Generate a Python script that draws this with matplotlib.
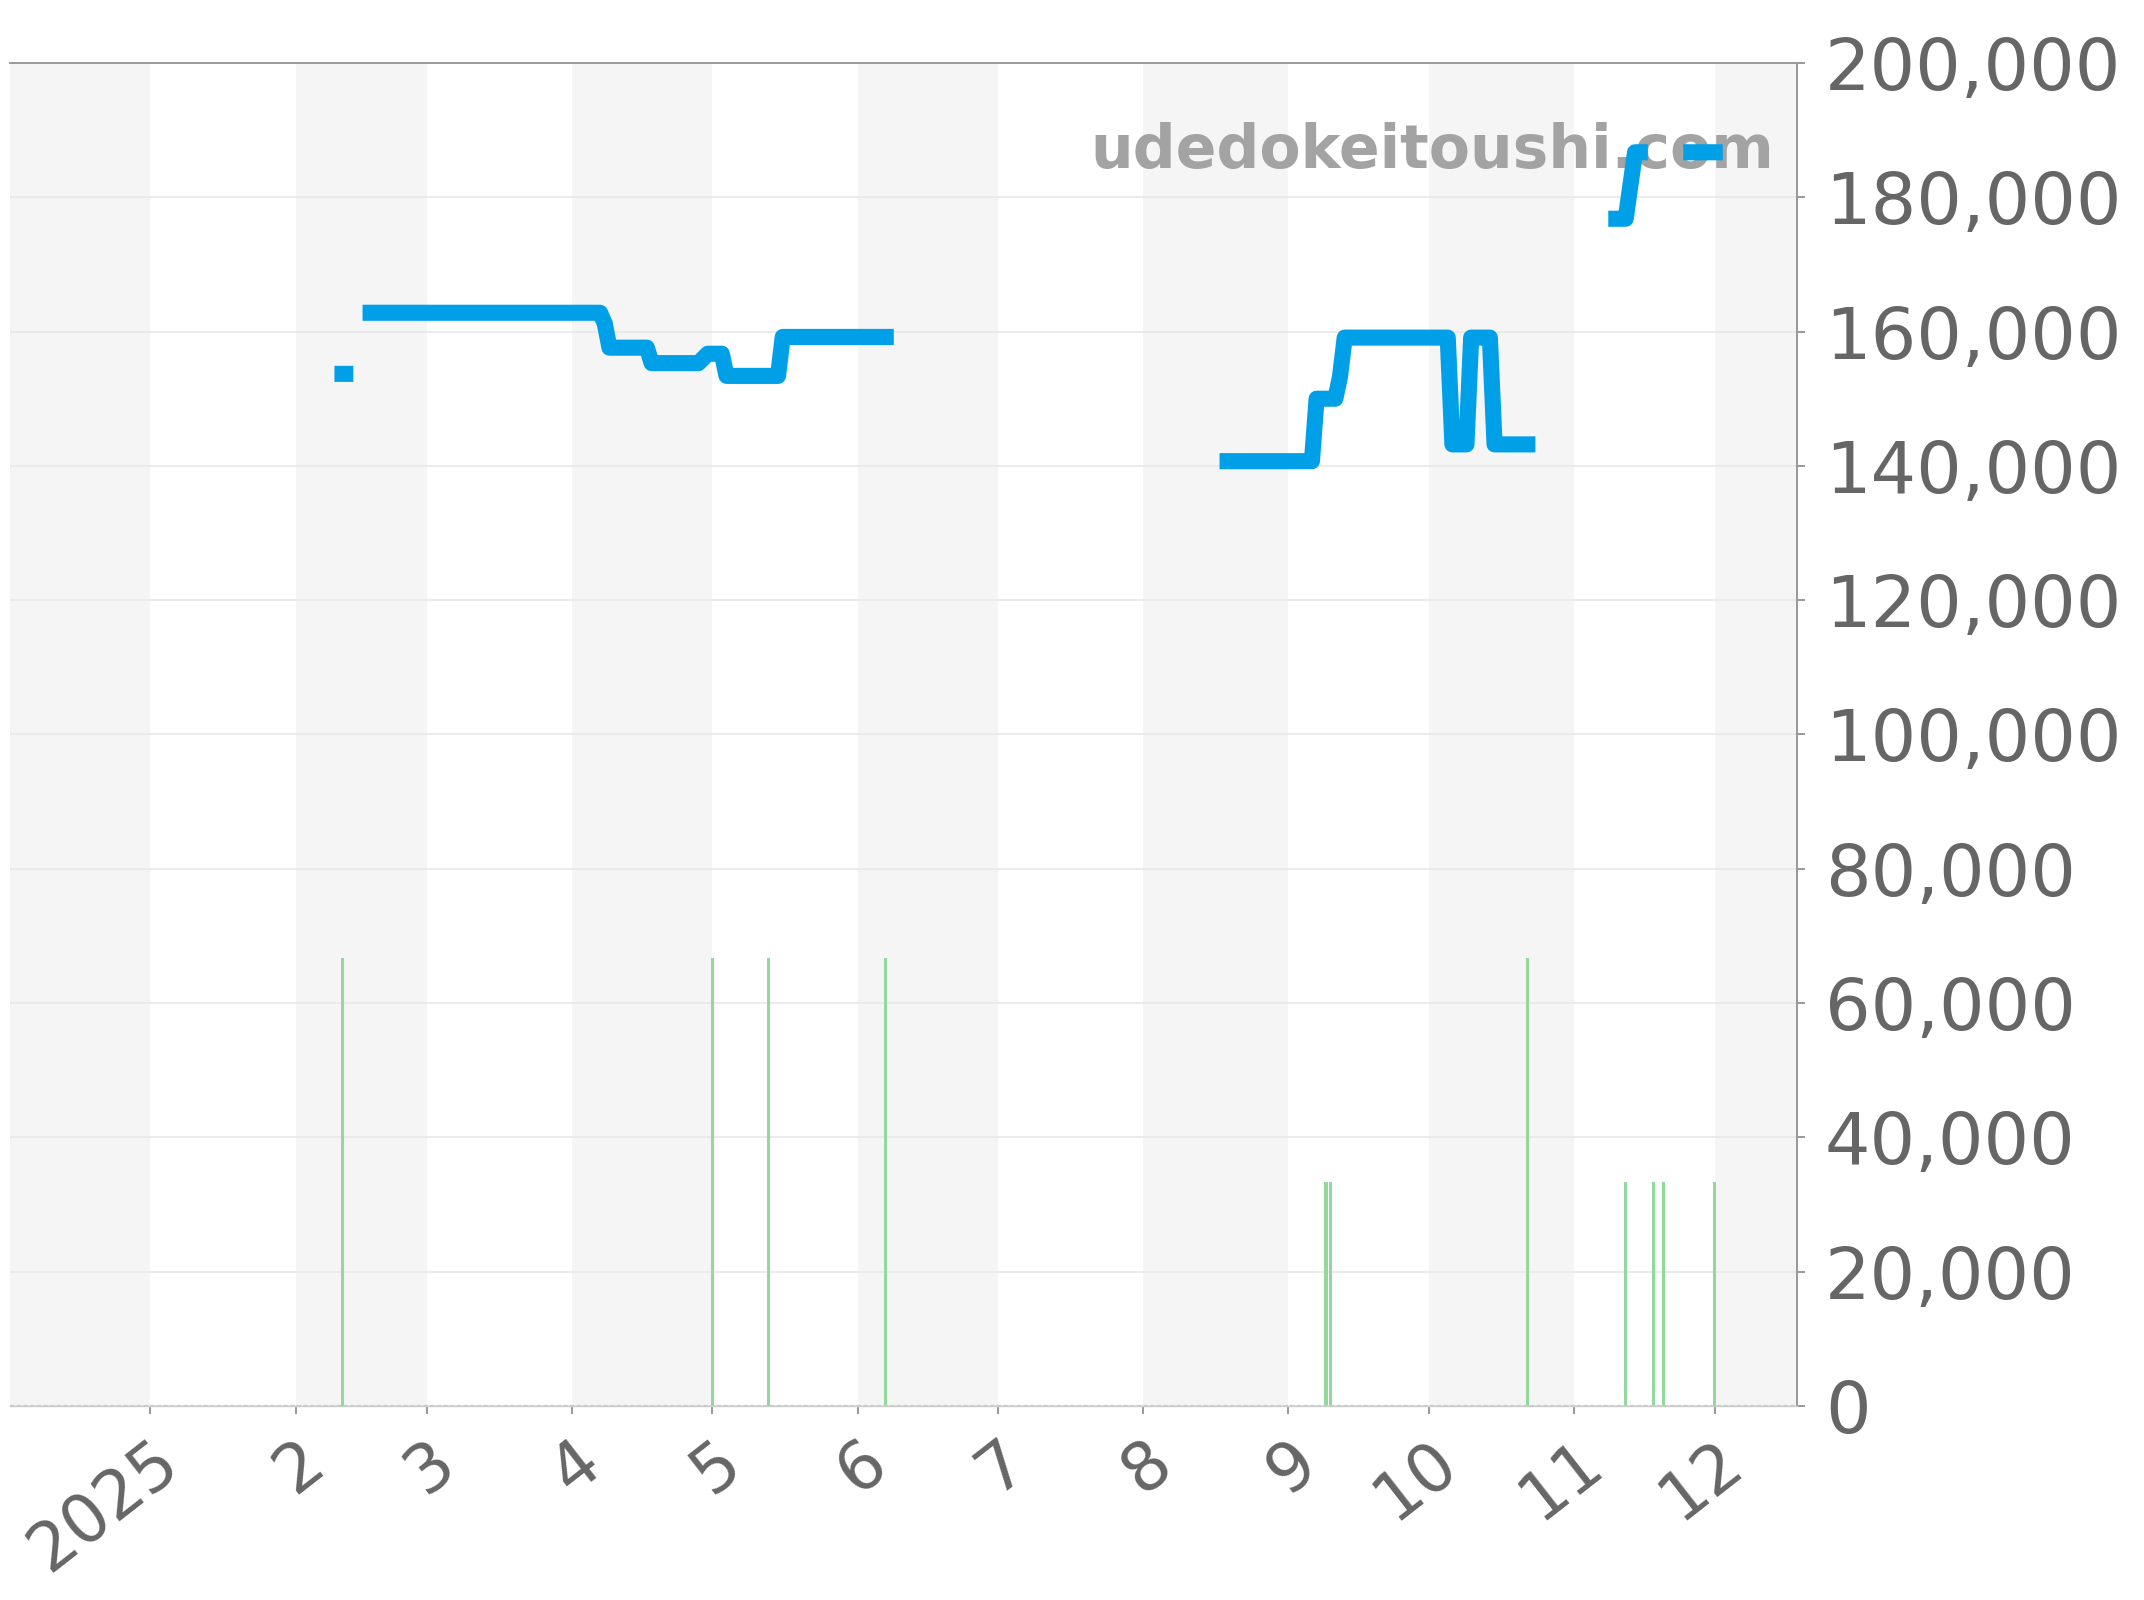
import numpy as np
import pandas as pd
import matplotlib
matplotlib.use("Agg")
import matplotlib.pyplot as plt
import matplotlib.ticker as mticker

# price line (NaN = no data)
price_dates = ["2025-02-11 00:00", "2025-02-11 14:00", "2025-02-12",
               "2025-02-17", "2025-04-07", "2025-04-08", "2025-04-09", "2025-04-17", "2025-04-18",
               "2025-04-28", "2025-04-30", "2025-05-03", "2025-05-04", "2025-05-15", "2025-05-16",
               "2025-06-07", "2025-06-08",
               "2025-08-19", "2025-09-06", "2025-09-07", "2025-09-11", "2025-09-12", "2025-09-13",
               "2025-10-05", "2025-10-06", "2025-10-09", "2025-10-10", "2025-10-14", "2025-10-15",
               "2025-10-22", "2025-10-23",
               "2025-11-10", "2025-11-12", "2025-11-14", "2025-11-15", "2025-11-16",
               "2025-11-26", "2025-12-01"]
price_values = [153700, 153700, np.nan,
                162800, 162800, 161200, 157600, 157600, 155300,
                155300, 156700, 156700, 153400, 153400, 159200,
                159200, np.nan,
                140700, 140700, 150000, 150000, 153300, 159100,
                159100, 143200, 143200, 159100, 159100, 143200,
                143200, np.nan,
                176800, 176800, 186700, 186700, np.nan,
                186700, 186700]

# listings count (green bars)
count_dates = ["2025-02-11", "2025-05-01", "2025-05-13", "2025-06-07", "2025-09-09", "2025-09-10",
               "2025-10-22", "2025-11-12", "2025-11-18", "2025-11-20", "2025-12-01"]
count_values = [2, 2, 2, 2, 1, 1, 2, 1, 1, 1, 1]

month_starts = ["2025-01-01", "2025-02-01", "2025-03-01", "2025-04-01", "2025-05-01", "2025-06-01",
                "2025-07-01", "2025-08-01", "2025-09-01", "2025-10-01", "2025-11-01", "2025-12-01"]
month_labels = ["2025", "2", "3", "4", "5", "6", "7", "8", "9", "10", "11", "12"]
shaded_months = [("2024-12-01", "2025-01-01"), ("2025-02-01", "2025-03-01"), ("2025-04-01", "2025-05-01"),
                 ("2025-06-01", "2025-07-01"), ("2025-08-01", "2025-09-01"), ("2025-10-01", "2025-11-01"),
                 ("2025-12-01", "2026-01-01")]

price_x = pd.to_datetime(price_dates, format="mixed")
count_x = pd.to_datetime(count_dates)
ticks_x = pd.to_datetime(month_starts)

fig = plt.figure(figsize=(10.72, 8), dpi=200)
ax = fig.add_axes([0.00466, 0.12125, 0.8335, 0.8394])

for s, e in shaded_months:
    ax.axvspan(pd.Timestamp(s), pd.Timestamp(e), color="#f5f5f5", lw=0, zorder=0)

ax.plot(price_x, price_values, color="#00a0e9", lw=5.8, zorder=3)

ax.text(0.987, 0.934, "udedokeitoushi.com", transform=ax.transAxes, ha="right", va="center",
        fontsize=21.6, fontweight="bold", color="#a3a3a3", zorder=2)

ax.set_xlim(pd.Timestamp("2024-12-02"), pd.Timestamp("2025-12-18 14:00"))
ax.set_ylim(0, 200000)
ax.yaxis.set_major_locator(mticker.MultipleLocator(20000))
ax.yaxis.set_major_formatter(mticker.StrMethodFormatter("{x:,.0f}"))
ax.grid(axis="y", color="#e8e8e8", lw=0.6, zorder=1)
ax.set_axisbelow(True)

ax.set_xticks(ticks_x)
ax.set_xticklabels(month_labels, rotation=38, ha="right", va="top", rotation_mode="anchor")

# green bars on a hidden second axis
ax2 = ax.twinx()
ax2.bar(count_x, count_values, width=0.7, color="#92d99c", lw=0, zorder=2)
ax2.axhline(0, color="#a8e0b0", lw=0.8, ls=(0, (2, 1)))
ax2.set_ylim(0, 6)
ax2.set_xlim(ax.get_xlim())
ax2.axis("off")

ax.yaxis.tick_right()
ax.tick_params(axis="y", labelsize=25.8, colors="#666666", length=3, width=0.7, pad=7, color="#999999")
ax.tick_params(axis="x", labelsize=24, colors="#666666", length=3, width=0.7, pad=5, color="#999999")

for side in ["right", "top"]:
    ax.spines[side].set_color("#999999")
    ax.spines[side].set_linewidth(0.7)
ax.spines["left"].set_visible(False)
ax.spines["bottom"].set_color("#cccccc")
ax.spines["bottom"].set_linewidth(0.5)

fig.savefig("out.png", dpi=200)
